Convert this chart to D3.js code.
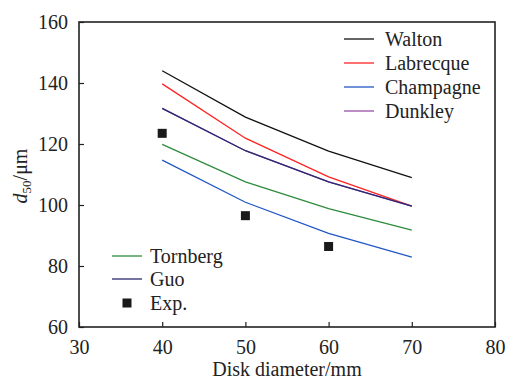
<!DOCTYPE html>
<html>
<head>
<meta charset="utf-8">
<script src="https://cdn.jsdelivr.net/npm/d3@7"></script>
</head>
<body style="margin:0">
<svg id="chart" width="506" height="381" font-family="Liberation Serif"></svg>
<script>
// disk diameters (mm)
const diameters = [40, 50, 60, 70];

// d50 predictions per model (um)
const walton     = [144, 128.8, 117.7, 109];
const labrecque  = [139.7, 121.9, 109.2, 99.6];
const dunkley    = [131.7, 117.8, 107.6, 99.6];
const guo        = [131.7, 117.8, 107.6, 99.6];
const tornberg   = [119.9, 107.6, 98.8, 91.8];
const champagne  = [114.7, 100.9, 90.7, 82.9];

// experiment points
const expDiameters = [40, 50, 60];
const expValues    = [123.5, 96.5, 86.4];

const xTicks = [30, 40, 50, 60, 70, 80];
const yTicks = [60, 80, 100, 120, 140, 160];

const series = [
  { name: 'Walton',     values: walton,    color: '#111111' },
  { name: 'Labrecque',  values: labrecque, color: '#ff2222' },
  { name: 'Champagne',  values: champagne, color: '#2157c4' },
  { name: 'Dunkley',    values: dunkley,   color: '#9a4fa8' },
  { name: 'Tornberg',   values: tornberg,  color: '#2e8b3c' },
  { name: 'Guo',        values: guo,       color: '#2a2870' },
];

const FONT = 'Liberation Serif';
const FS = 20;
const INK = '#222';

const margin = { top: 22, right: 11, bottom: 54, left: 79 };
const width = 506 - margin.left - margin.right;
const height = 381 - margin.top - margin.bottom;

const svg = d3.select('#chart');
const g = svg.append('g')
  .attr('transform', `translate(${margin.left},${margin.top})`);

const x = d3.scaleLinear().domain([30, 80]).range([0, width]);
const y = d3.scaleLinear().domain([60, 160]).range([height, 0]);

// axes with inward ticks
const xAxis = g.append('g')
  .attr('transform', `translate(0,${height})`)
  .call(d3.axisBottom(x).tickValues(xTicks).tickSizeInner(-5).tickSizeOuter(0).tickPadding(13));
const yAxis = g.append('g')
  .call(d3.axisLeft(y).tickValues(yTicks).tickSizeInner(-5).tickSizeOuter(0).tickPadding(11));

[xAxis, yAxis].forEach(ax => {
  ax.select('.domain').remove();
  ax.selectAll('line').attr('stroke', INK).attr('stroke-width', 1.2);
  ax.selectAll('text').attr('font-family', FONT).attr('font-size', FS).attr('fill', INK);
});

// frame
g.append('rect')
  .attr('width', width).attr('height', height)
  .attr('fill', 'none').attr('stroke', INK).attr('stroke-width', 1.6);

const line = d3.line()
  .x((d, i) => x(diameters[i]))
  .y(d => y(d));

// draw Dunkley first so Guo sits on top
const drawOrder = ['Walton', 'Labrecque', 'Champagne', 'Dunkley', 'Tornberg', 'Guo'];
drawOrder.forEach(name => {
  const s = series.find(d => d.name === name);
  g.append('path')
    .datum(s.values)
    .attr('fill', 'none')
    .attr('stroke', s.color)
    .attr('stroke-width', 1.3)
    .attr('d', line);
});

g.selectAll('.exp')
  .data(expValues)
  .enter().append('rect')
  .attr('class', 'exp')
  .attr('x', (d, i) => x(expDiameters[i]) - 4.5)
  .attr('y', d => y(d) - 4.5)
  .attr('width', 9).attr('height', 9)
  .attr('fill', '#1a1a1a');

// legends
const legendTop = [
  { s: series[0], y: 39 },
  { s: series[1], y: 63 },
  { s: series[2], y: 87 },
  { s: series[3], y: 111 },
];
legendTop.forEach(d => {
  svg.append('line')
    .attr('x1', 344).attr('x2', 374).attr('y1', d.y).attr('y2', d.y)
    .attr('stroke', d.s.color).attr('stroke-width', 1.3);
  svg.append('text')
    .attr('x', 385).attr('y', d.y).attr('dy', '0.35em')
    .attr('font-family', FONT).attr('font-size', FS).attr('fill', INK)
    .text(d.s.name);
});

const legendBottom = [
  { s: series[4], y: 256 },
  { s: series[5], y: 279 },
];
legendBottom.forEach(d => {
  svg.append('line')
    .attr('x1', 112).attr('x2', 142).attr('y1', d.y).attr('y2', d.y)
    .attr('stroke', d.s.color).attr('stroke-width', 1.3);
  svg.append('text')
    .attr('x', 150).attr('y', d.y).attr('dy', '0.35em')
    .attr('font-family', FONT).attr('font-size', FS).attr('fill', INK)
    .text(d.s.name);
});
svg.append('rect')
  .attr('x', 122.5).attr('y', 298.5).attr('width', 9).attr('height', 9)
  .attr('fill', '#1a1a1a');
svg.append('text')
  .attr('x', 150).attr('y', 303).attr('dy', '0.35em')
  .attr('font-family', FONT).attr('font-size', FS).attr('fill', INK)
  .text('Exp.');

// axis titles
svg.append('text')
  .attr('x', margin.left + width / 2).attr('y', 376)
  .attr('text-anchor', 'middle')
  .attr('font-family', FONT).attr('font-size', FS).attr('fill', INK)
  .text('Disk diameter/mm');

const yTitle = svg.append('text')
  .attr('transform', 'translate(27,176) rotate(-90)')
  .attr('text-anchor', 'middle')
  .attr('font-family', FONT).attr('font-size', FS).attr('fill', INK);
yTitle.append('tspan').attr('font-style', 'italic').text('d');
yTitle.append('tspan').attr('font-size', 13).attr('dy', 4).text('50');
yTitle.append('tspan').attr('dy', -4).text('/μm');
</script>
</body>
</html>
